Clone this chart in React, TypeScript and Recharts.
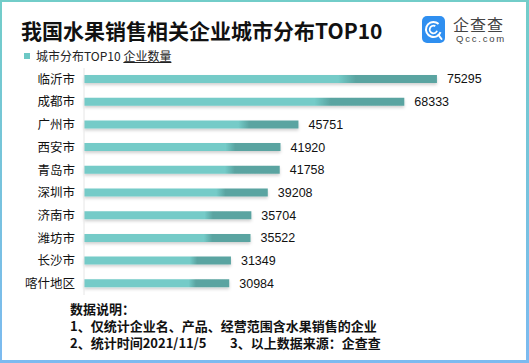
import React from "react";
import { BarChart, Bar, XAxis, YAxis, LabelList } from "recharts";

const cities = ["临沂市", "成都市", "广州市", "西安市", "青岛市", "深圳市", "济南市", "潍坊市", "长沙市", "喀什地区"];
const counts = [75295, 68333, 45751, 41920, 41758, 39208, 35704, 35522, 31349, 30984];
const title = "我国水果销售相关企业城市分布TOP10";
const legendLabel = "城市分布TOP10 ";
const legendUnderline = "企业数量";
const notes = [
  "数据说明：",
  "1、仅统计企业名、产品、经营范围含水果销售的企业",
  "2、统计时间2021/11/5",
  "3、以上数据来源：企查查",
];

const data = cities.map((c, i) => ({ city: c, value: counts[i] }));

const FONT = "'Liberation Sans', 'Noto Sans CJK SC', sans-serif";
const CJK = "'Noto Sans CJK SC', 'Liberation Sans', sans-serif";

function Logo() {
  return (
    <div style={{ position: "absolute", left: 422, top: 16, width: 90, height: 30 }}>
      <svg width={26} height={28} style={{ position: "absolute", left: 0, top: 0 }}>
        <rect x={0} y={0} width={23} height={27} rx={5} fill="#2f8ff0" />
        <circle cx={11.5} cy={13.5} r={7.5} fill="none" stroke="#fff" strokeWidth={2} strokeDasharray="38 9" transform="rotate(20 11.5 13.5)" />
        <circle cx={11.5} cy={13.5} r={3.8} fill="none" stroke="#fff" strokeWidth={1.8} strokeDasharray="18 6" transform="rotate(20 11.5 13.5)" />
        <line x1={16.5} y1={19} x2={19.5} y2={23} stroke="#fff" strokeWidth={2} strokeLinecap="round" />
      </svg>
      <div style={{ position: "absolute", left: 31, top: 0, fontFamily: CJK, fontSize: 16, lineHeight: "17px", color: "#444", letterSpacing: 1, whiteSpace: "nowrap" }}>企查查</div>
      <div style={{ position: "absolute", left: 34, top: 18, fontFamily: FONT, fontSize: 9.5, lineHeight: "10px", color: "#444", letterSpacing: 1.8, whiteSpace: "nowrap" }}>Qcc.com</div>
    </div>
  );
}

const noteStyle: React.CSSProperties = {
  position: "absolute",
  left: 70,
  fontFamily: CJK,
  fontWeight: 700,
  fontSize: 13,
  lineHeight: "15px",
  color: "#111",
  whiteSpace: "nowrap",
};

export default function App() {
  return (
    <div
      style={{
        position: "fixed",
        left: 0,
        top: 0,
        width: 529,
        height: 363,
        background: "linear-gradient(to bottom, #72cdc9, #7cbaf0)",
      }}
    >
      <div style={{ position: "absolute", left: 2, top: 2, right: 3, bottom: 3, background: "#fff" }} />
      <div
        style={{
          position: "absolute",
          left: 21,
          top: 18,
          fontFamily: CJK,
          fontWeight: 700,
          fontSize: 21,
          lineHeight: "24px",
          color: "#111",
          whiteSpace: "nowrap",
        }}
      >
        {title}
      </div>
      <Logo />
      <div style={{ position: "absolute", left: 24, top: 53, width: 6, height: 6, background: "#6dc8c5" }} />
      <div
        style={{
          position: "absolute",
          left: 36,
          top: 48,
          fontFamily: CJK,
          fontSize: 12,
          lineHeight: "15px",
          color: "#222",
          whiteSpace: "nowrap",
        }}
      >
        {legendLabel}
        <span style={{ textDecoration: "underline" }}>{legendUnderline}</span>
      </div>
      <div style={{ position: "absolute", left: 0, top: 0 }}>
        <BarChart
          width={529}
          height={363}
          data={data}
          layout="vertical"
          margin={{ top: 68, bottom: 68, left: 0, right: 70 }}
        >
          <defs>
            <linearGradient id="barGrad" x1="0" y1="0" x2="1" y2="0">
              <stop offset="0" stopColor="#74cbc8" />
              <stop offset="0.72" stopColor="#74cbc8" />
              <stop offset="0.77" stopColor="#5aa4a1" />
              <stop offset="1" stopColor="#5aa4a1" />
            </linearGradient>
            <filter id="barShadow" x="-5%" y="-100%" width="110%" height="300%">
              <feDropShadow dx="0" dy="2" stdDeviation="1.5" floodColor="#000" floodOpacity="0.18" />
            </filter>
          </defs>
          <XAxis type="number" hide domain={[0, 80000]} />
          <YAxis
            type="category"
            dataKey="city"
            width={84}
            tickLine={false}
            tickMargin={3}
            axisLine={{ stroke: "#e6e6e6" }}
            tick={{ fontSize: 12.5, fill: "#111", fontFamily: CJK }}
            interval={0}
          />
          <Bar
            dataKey="value"
            barSize={8}
            fill="url(#barGrad)"
            filter="url(#barShadow)"
            isAnimationActive={false}
          >
            <LabelList
              dataKey="value"
              position="right"
              offset={10}
              style={{ fontSize: 12.5, fill: "#111", fontFamily: FONT }}
            />
          </Bar>
        </BarChart>
      </div>
      <div style={{ ...noteStyle, top: 301 }}>{notes[0]}</div>
      <div style={{ ...noteStyle, top: 318 }}>{notes[1]}</div>
      <div style={{ ...noteStyle, top: 335 }}>{notes[2]}</div>
      <div style={{ ...noteStyle, top: 335, left: 230 }}>{notes[3]}</div>
    </div>
  );
}
